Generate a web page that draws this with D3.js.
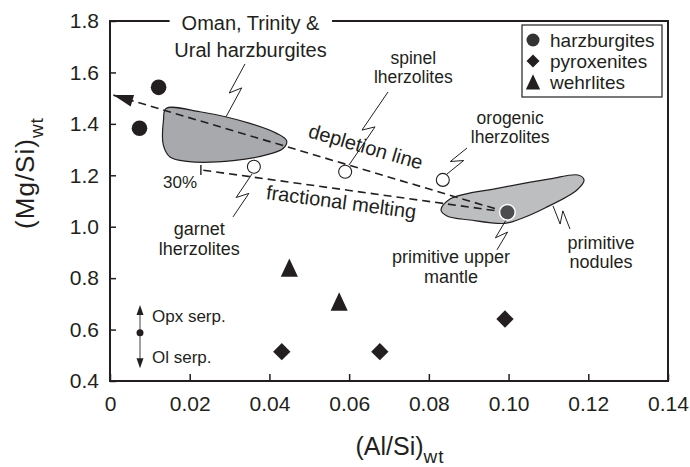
<!DOCTYPE html>
<html>
<head>
<meta charset="utf-8">
<script src="https://cdn.jsdelivr.net/npm/d3@7"></script>
<style>
  body { margin: 0; background: #fff; }
  text { font-family: "Liberation Sans", Arial, Helvetica, sans-serif; }
</style>
</head>
<body>
<div id="chart"></div>
<script>
// ---- data (Al/Si, Mg/Si) ----
const harzburgites = [[0.0122, 1.542], [0.0074, 1.383]];
const pyroxenites = [[0.0431, 0.514], [0.0677, 0.514], [0.0991, 0.641]];
const wehrlites = [[0.0450, 0.840], [0.0575, 0.708]];
const lherzolites = [[0.0361, 1.233], [0.0590, 1.214], [0.0835, 1.182]]; // garnet, spinel, orogenic
const primitiveMantle = [0.0997, 1.056];

const omanField = [
  [0.01405, 1.460], [0.02258, 1.447], [0.03513, 1.402], [0.04182, 1.363],
  [0.04433, 1.334], [0.04340, 1.304], [0.04014, 1.283], [0.03094, 1.257],
  [0.01924, 1.254], [0.01505, 1.271], [0.01337, 1.318], [0.01342, 1.415]
];
const noduleField = [
  [0.08305, 1.065], [0.08531, 1.108], [0.09785, 1.151], [0.11040, 1.186],
  [0.11742, 1.201], [0.11893, 1.182], [0.11717, 1.143], [0.10914, 1.073],
  [0.10287, 1.030], [0.09910, 1.013], [0.09032, 1.026], [0.08455, 1.042]
];

const depletionLine = [[0.0997, 1.056], [0.0008, 1.512]];
const meltingLine = [[0.0997, 1.056], [0.0228, 1.221]];
const serpRange = [0.00753, 0.4494, 0.5878, 0.6956]; // x, low, mid, high

const xTicks = [0, 0.02, 0.04, 0.06, 0.08, 0.10, 0.12, 0.14];
const xTickLabels = ["0", "0.02", "0.04", "0.06", "0.08", "0.10", "0.12", "0.14"];
const yTicks = [0.4, 0.6, 0.8, 1.0, 1.2, 1.4, 1.6, 1.8];
const yTickLabels = ["0.4", "0.6", "0.8", "1.0", "1.2", "1.4", "1.6", "1.8"];

// annotation text: lines, anchor point (data units), font size, line height
const labels = [
  { lines: ["Ural harzburgites"], at: [0.03525, 1.660], size: 20, lh: 0 },
  { lines: ["spinel", "lherzolites"], at: [0.0761, 1.633], size: 17.5, lh: 19.5 },
  { lines: ["orogenic", "lherzolites"], at: [0.1004, 1.3995], size: 17.5, lh: 19.5 },
  { lines: ["garnet", "lherzolites"], at: [0.0224, 0.968], size: 18, lh: 20 },
  { lines: ["primitive upper", "mantle"], at: [0.08556, 0.857], size: 18, lh: 20 },
  { lines: ["primitive", "nodules"], at: [0.1232, 0.915], size: 18, lh: 19.5 },
  { lines: ["30%"], at: [0.01756, 1.149], size: 17, lh: 0 }
];
const omanTitle = { text: "Oman, Trinity &", at: [0.03525, 1.765] };

// zigzag leader lines, upper end -> lower end
const leaders = [
  [[0.03387, 1.633], [0.02910, 1.427]],
  [[0.06975, 1.524], [0.05997, 1.240]],
  [[0.08957, 1.306], [0.08455, 1.205]],
  [[0.03563, 1.205], [0.03086, 1.038]],
  [[0.09936, 1.026], [0.09710, 0.910]],
  [[0.11115, 1.081], [0.11541, 0.991]]
];

const legendItems = ["harzburgites", "pyroxenites", "wehrlites"];

// ---- layout ----
const W = 690, H = 467;
const margin = { top: 21, right: 22, bottom: 86, left: 110 };
const width = W - margin.left - margin.right;
const height = H - margin.top - margin.bottom;
const ink = "#231f20";

const svg = d3.select("#chart").append("svg")
  .attr("width", W)
  .attr("height", H);

const g = svg.append("g")
  .attr("transform", `translate(${margin.left},${margin.top})`);

const x = d3.scaleLinear().domain([0, 0.14]).range([0, width]);
const y = d3.scaleLinear().domain([0.4, 1.8]).range([height, 0]);

// axes with inward ticks
const xAxis = g.append("g")
  .attr("transform", `translate(0,${height})`)
  .call(d3.axisBottom(x).tickValues(xTicks).tickSize(-7).tickSizeOuter(0)
    .tickPadding(15).tickFormat((d, i) => xTickLabels[i]));
const yAxis = g.append("g")
  .call(d3.axisLeft(y).tickValues(yTicks).tickSize(-6).tickSizeOuter(0)
    .tickPadding(11).tickFormat((d, i) => yTickLabels[i]));

[xAxis, yAxis].forEach(a => {
  a.attr("font-family", null).attr("font-size", 21);
  a.select(".domain").remove();
  a.selectAll("line").attr("stroke", ink).attr("stroke-width", 1.5);
  a.selectAll("text").attr("fill", ink);
});

// frame
g.append("rect")
  .attr("width", width)
  .attr("height", height)
  .attr("fill", "none")
  .attr("stroke", ink)
  .attr("stroke-width", 2);

// axis titles
const xTitle = svg.append("text")
  .attr("x", 400).attr("y", 455)
  .attr("text-anchor", "middle")
  .attr("font-size", 25)
  .attr("fill", ink);
xTitle.append("tspan").text("(Al/Si)");
xTitle.append("tspan").attr("dy", 8).attr("font-size", 19).attr("letter-spacing", 1).text("wt");

const yTitle = svg.append("text")
  .attr("transform", "translate(34,173) rotate(-90)")
  .attr("text-anchor", "middle")
  .attr("font-size", 26)
  .attr("fill", ink);
yTitle.append("tspan").attr("letter-spacing", 1).text("(Mg/Si)");
yTitle.append("tspan").attr("dy", 9).attr("font-size", 19).attr("letter-spacing", 1).text("wt");

// fields
const area = d3.line()
  .x(d => x(d[0]))
  .y(d => y(d[1]))
  .curve(d3.curveCatmullRomClosed.alpha(0.5));

g.append("path")
  .attr("d", area(omanField))
  .attr("fill", "#a7a9ac")
  .attr("stroke", ink)
  .attr("stroke-width", 1.2);

g.append("path")
  .attr("d", area(noduleField))
  .attr("fill", "#bcbec0")
  .attr("stroke", ink)
  .attr("stroke-width", 1.2);

// depletion and melting trends
const straight = d3.line().x(d => x(d[0])).y(d => y(d[1]));
[depletionLine, meltingLine].forEach(l => {
  g.append("path")
    .attr("d", straight(l))
    .attr("fill", "none")
    .attr("stroke", ink)
    .attr("stroke-width", 1.6)
    .attr("stroke-dasharray", "8,5");
});

// arrowhead at depleted end
{
  const tx = x(depletionLine[1][0]), ty = y(depletionLine[1][1]);
  const fx = x(depletionLine[0][0]), fy = y(depletionLine[0][1]);
  const len = Math.hypot(fx - tx, fy - ty);
  const ux = (fx - tx) / len, uy = (fy - ty) / len;
  const bx = tx + ux * 20, by = ty + uy * 20;
  g.append("path")
    .attr("d", `M${tx},${ty}L${bx - uy * 6},${by + ux * 6}L${bx + uy * 6},${by - ux * 6}Z`)
    .attr("fill", ink);
}

// 30% tick at end of melting line
{
  const px = x(meltingLine[1][0]), py = y(meltingLine[1][1]);
  g.append("line")
    .attr("x1", px).attr("y1", py - 5)
    .attr("x2", px).attr("y2", py + 5)
    .attr("stroke", ink).attr("stroke-width", 1.4);
}

// leader lines
function bolt(a, b) {
  const ax = x(a[0]), ay = y(a[1]), bx = x(b[0]), by = y(b[1]);
  const len = Math.hypot(bx - ax, by - ay);
  const dx = (bx - ax) / len, dy = (by - ay) / len;
  const nx = dy, ny = -dx;
  const mx = (ax + bx) / 2, my = (ay + by) / 2;
  return [
    [ax, ay],
    [mx + 4.5 * dx - 5 * nx, my + 4.5 * dy - 5 * ny],
    [mx - 4.5 * dx + 5 * nx, my - 4.5 * dy + 5 * ny],
    [bx, by]
  ];
}
g.append("g").selectAll("path")
  .data(leaders)
  .join("path")
  .attr("d", d => d3.line()(bolt(d[0], d[1])))
  .attr("fill", "none")
  .attr("stroke", ink)
  .attr("stroke-width", 1);

// serpentinization indicator
{
  const sx = x(serpRange[0]);
  const y0 = y(serpRange[1]), y1 = y(serpRange[3]);
  g.append("line")
    .attr("x1", sx).attr("x2", sx)
    .attr("y1", y1 + 6).attr("y2", y0 - 6)
    .attr("stroke", "#808080").attr("stroke-width", 1.5);
  g.append("path")
    .attr("d", `M${sx},${y1}L${sx - 3.5},${y1 + 10}L${sx + 3.5},${y1 + 10}Z`)
    .attr("fill", ink);
  g.append("path")
    .attr("d", `M${sx},${y0}L${sx - 3.5},${y0 - 10}L${sx + 3.5},${y0 - 10}Z`)
    .attr("fill", ink);
  g.append("circle")
    .attr("cx", sx).attr("cy", y(serpRange[2])).attr("r", 3.5)
    .attr("fill", ink);
  g.append("text")
    .attr("x", sx + 12).attr("y", y(serpRange[2]) - 11)
    .attr("font-size", 17).attr("fill", ink)
    .text("Opx serp.");
  g.append("text")
    .attr("x", sx + 12).attr("y", y(serpRange[2]) + 30)
    .attr("font-size", 17).attr("fill", ink)
    .text("Ol serp.");
}

// symbols
const diamond = d3.symbol().type(d3.symbolSquare).size(150)();
const tri = s => `M0,${-s * 1.05}L${s * 0.95},${s}L${-s * 0.95},${s}Z`;

g.append("g").selectAll("circle")
  .data(harzburgites)
  .join("circle")
  .attr("cx", d => x(d[0]))
  .attr("cy", d => y(d[1]))
  .attr("r", 7.8)
  .attr("fill", ink);

g.append("g").selectAll("path")
  .data(pyroxenites)
  .join("path")
  .attr("d", diamond)
  .attr("transform", d => `translate(${x(d[0])},${y(d[1])}) rotate(45)`)
  .attr("fill", ink);

g.append("g").selectAll("path")
  .data(wehrlites)
  .join("path")
  .attr("d", tri(9))
  .attr("transform", d => `translate(${x(d[0])},${y(d[1])})`)
  .attr("fill", ink);

g.append("g").selectAll("circle")
  .data(lherzolites)
  .join("circle")
  .attr("cx", d => x(d[0]))
  .attr("cy", d => y(d[1]))
  .attr("r", 6.5)
  .attr("fill", "#fff")
  .attr("stroke", ink)
  .attr("stroke-width", 1.1);

g.append("circle")
  .attr("cx", x(primitiveMantle[0]))
  .attr("cy", y(primitiveMantle[1]))
  .attr("r", 7.8)
  .attr("fill", "#4d4d4f")
  .attr("stroke", "#fff")
  .attr("stroke-width", 1.5);

// trend labels, rotated along their lines
{
  const a = depletionLine, m = meltingLine;
  const angD = Math.atan2(y(a[0][1]) - y(a[1][1]), x(a[0][0]) - x(a[1][0])) * 180 / Math.PI - 0.4;
  const angM = Math.atan2(y(m[0][1]) - y(m[1][1]), x(m[0][0]) - x(m[1][0])) * 180 / Math.PI - 0.4;
  g.append("text")
    .attr("transform", `translate(${x(0.0637)},${y(1.2855)}) rotate(${angD})`)
    .attr("text-anchor", "middle")
    .attr("font-size", 20).attr("fill", ink)
    .text("depletion line");
  g.append("text")
    .attr("transform", `translate(${x(0.0578)},${y(1.0697)}) rotate(${angM})`)
    .attr("text-anchor", "middle")
    .attr("font-size", 20).attr("fill", ink)
    .text("fractional melting");
}

// other annotations
labels.forEach(l => {
  const t = g.append("text")
    .attr("x", x(l.at[0]))
    .attr("y", y(l.at[1]))
    .attr("text-anchor", "middle")
    .attr("font-size", l.size)
    .attr("fill", ink);
  l.lines.forEach((s, i) => {
    t.append("tspan")
      .attr("x", x(l.at[0]))
      .attr("dy", i === 0 ? 0 : l.lh)
      .text(s);
  });
});

// title sitting on the top frame
{
  const t = g.append("text")
    .attr("x", x(omanTitle.at[0]))
    .attr("y", y(omanTitle.at[1]))
    .attr("text-anchor", "middle")
    .attr("font-size", 20)
    .attr("fill", ink)
    .text(omanTitle.text);
  const bb = t.node().getBBox();
  g.insert("rect", () => t.node())
    .attr("x", bb.x - 12).attr("y", -4)
    .attr("width", bb.width + 24).attr("height", 8)
    .attr("fill", "#fff");
}

// legend
const legend = g.append("g").attr("transform", `translate(${width - 146},4)`);
legend.append("rect")
  .attr("width", 140).attr("height", 72)
  .attr("fill", "#fff")
  .attr("stroke", ink)
  .attr("stroke-width", 1.2);
const legendShapes = [
  sel => sel.append("circle").attr("r", 6.5).attr("fill", "#333"),
  sel => sel.append("path").attr("d", d3.symbol().type(d3.symbolSquare).size(85)())
    .attr("transform", "rotate(45)").attr("fill", ink),
  sel => sel.append("path").attr("d", tri(7.5)).attr("fill", ink)
];
legendItems.forEach((name, i) => {
  const row = legend.append("g").attr("transform", `translate(11,${15 + i * 21})`);
  legendShapes[i](row);
  row.append("text")
    .attr("x", 17).attr("y", 6.5)
    .attr("font-size", 19)
    .attr("fill", ink)
    .text(name);
});
</script>
</body>
</html>
